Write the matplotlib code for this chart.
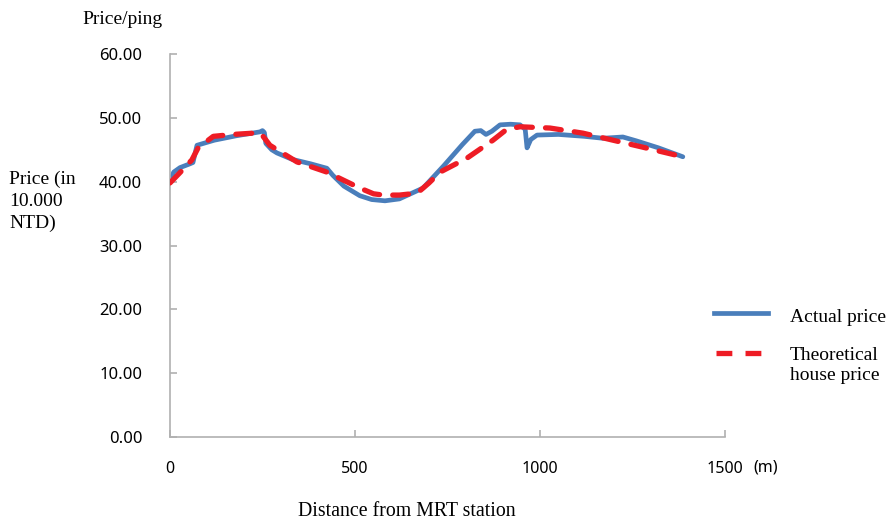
import matplotlib.pyplot as plt
from matplotlib.lines import Line2D

# Distancia a la estación (m) y precio por ping (10.000 NTD)
dist_real = [0, 10, 27, 54, 62, 73, 120, 180, 243, 250, 255, 259, 275, 289, 330, 380,
             424, 440, 470, 513, 545, 581, 620, 684, 740, 790, 824, 840, 854, 870,
             892, 920, 946, 960, 965, 975, 992, 1050, 1120, 1170, 1224, 1260, 1320, 1386]
precio_real = [40.0, 41.5, 42.2, 42.8, 43.0, 45.7, 46.5, 47.2, 47.8, 48.0, 47.7, 46.0,
               45.0, 44.5, 43.5, 42.8, 42.1, 41.0, 39.3, 37.8, 37.2, 37.0, 37.3, 39.0,
               42.5, 45.8, 47.9, 48.0, 47.4, 47.9, 48.9, 49.0, 48.9, 48.2, 45.3, 46.6,
               47.3, 47.4, 47.1, 46.8, 47.0, 46.4, 45.3, 43.9]

dist_teorico = [0, 25, 59, 76, 117, 170, 225, 245, 270, 343, 424, 470, 513, 550, 576,
                620, 668, 700, 730, 803, 873, 910, 946, 1027, 1116, 1197, 1278, 1386]
precio_teorico = [39.8, 41.3, 43.4, 45.3, 47.1, 47.4, 47.6, 47.6, 45.7, 43.1, 41.5,
                  40.2, 39.0, 38.1, 37.9, 37.9, 38.2, 39.8, 41.5, 43.7, 46.5, 48.2,
                  48.6, 48.4, 47.6, 46.5, 45.4, 43.9]

y_ticks = [0, 10, 20, 30, 40, 50, 60]
x_ticks = [0, 500, 1000, 1500]

serif = "Liberation Serif"
sans = "Noto Sans"
gris = "#b0b0b0"
azul = "#4a7ebb"
rojo = "#ee1c25"

fig = plt.figure(figsize=(8.88, 5.2), dpi=100)
ax = fig.add_axes([170 / 888, 1 - 437 / 520, 555 / 888, 383 / 520])

ax.plot(dist_real, precio_real, color=azul, linewidth=3.4,
        solid_capstyle="round", solid_joinstyle="round", zorder=2)
ax.plot(dist_teorico, precio_teorico, color=rojo, linewidth=3.8,
        linestyle=(0, (3.0, 2.5)), dash_capstyle="round", zorder=3)

ax.set_xlim(0, 1500)
ax.set_ylim(0, 60)
ax.set_xticks(x_ticks)
ax.set_yticks(y_ticks)
ax.set_xticklabels([str(v) for v in x_ticks], fontfamily=sans, fontsize=11.5)
ax.set_yticklabels([f"{v:.2f}" for v in y_ticks], fontfamily=sans, fontsize=12)
ax.tick_params(axis="both", direction="in", length=5, color=gris, width=1.2)
ax.tick_params(axis="y", pad=20)
ax.tick_params(axis="x", pad=17)

for lado in ["top", "right"]:
    ax.spines[lado].set_visible(False)
for lado in ["left", "bottom"]:
    ax.spines[lado].set_color(gris)
    ax.spines[lado].set_linewidth(1.2)

# Textos de ejes
fig.text(122 / 888, 1 - 19 / 520, "Price/ping", fontfamily=serif, fontsize=14,
         ha="center", va="center")
fig.text(9 / 888, 1 - 171 / 520, "Price (in\n10.000\nNTD)", fontfamily=serif,
         fontsize=14, ha="left", va="top", linespacing=1.35)
fig.text(766 / 888, 1 - 468 / 520, "(m)", fontfamily=sans, fontsize=11.5,
         ha="center", va="center")
fig.text(407 / 888, 1 - 511 / 520, "Distance from MRT station", fontfamily=serif,
         fontsize=14.3, ha="center", va="center")

# Leyenda
fig.add_artist(Line2D([714 / 888, 768 / 888], [1 - 313 / 520] * 2, color=azul,
                      linewidth=3.4, transform=fig.transFigure))
fig.add_artist(Line2D([716 / 888, 768 / 888], [1 - 353 / 520] * 2, color=rojo,
                      linewidth=3.8, linestyle=(0, (3.0, 2.5)),
                      transform=fig.transFigure))
fig.text(790 / 888, 1 - 318 / 520, "Actual price", fontfamily=serif, fontsize=14,
         ha="left", va="center")
fig.text(790 / 888, 1 - 347 / 520, "Theoretical\nhouse price", fontfamily=serif,
         fontsize=14, ha="left", va="top", linespacing=1.2)

fig.savefig("out.png", dpi=100)
